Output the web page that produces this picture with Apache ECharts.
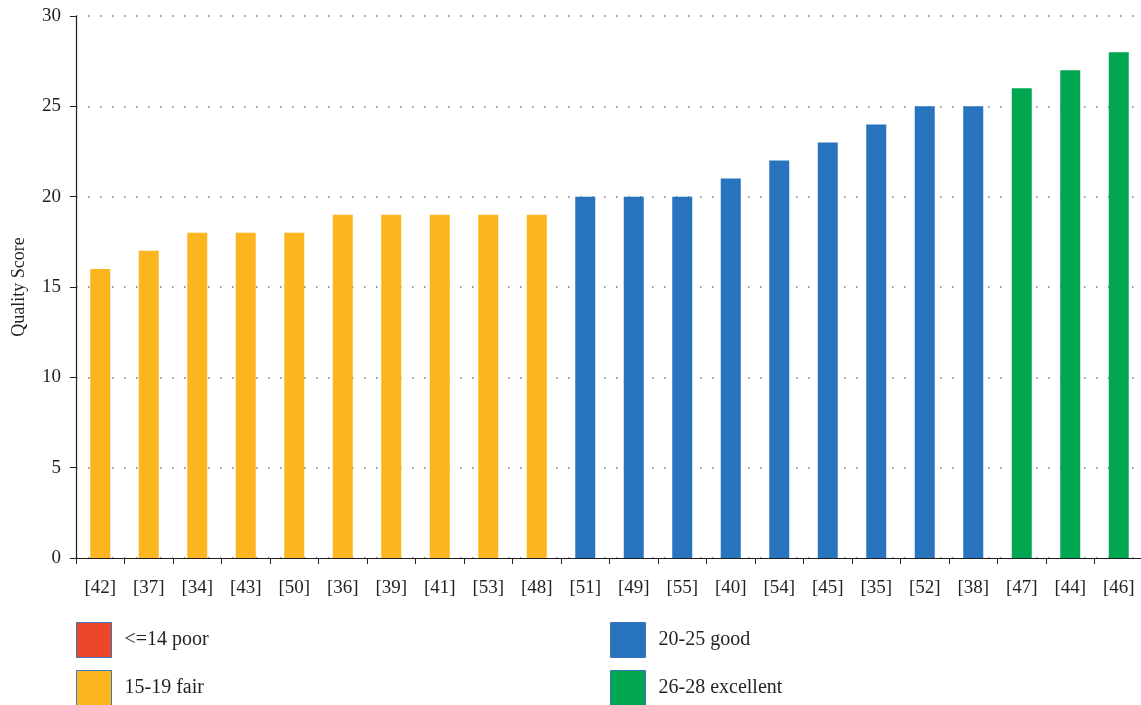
<!DOCTYPE html>
<html><head><meta charset="utf-8">
<script src="https://cdn.jsdelivr.net/npm/echarts@6/dist/echarts.min.js"></script>
<style>html,body{margin:0;padding:0;background:#fff}#c{width:1141px;height:705px}</style>
</head><body><div id="c"></div>
<script>
const categories = ['[42]','[37]','[34]','[43]','[50]','[36]','[39]','[41]','[53]','[48]','[51]','[49]','[55]','[40]','[54]','[45]','[35]','[52]','[38]','[47]','[44]','[46]'];
const scores = [16,17,18,18,18,19,19,19,19,19,20,20,20,21,22,23,24,25,25,26,27,28];
const groupNames = ['<=14 poor','15-19 fair','20-25 good','26-28 excellent'];
const groupMin = [0,15,20,26];
const groupMax = [14,19,25,28];
const groupColors = ['#EE4628','#FBB51E','#2773BE','#00A650'];

const font = '"Liberation Serif", "DejaVu Serif", serif';
const series = groupNames.map((name, g) => ({
  name: name,
  type: 'bar',
  stack: 'all',
  barWidth: 20,
  itemStyle: {color: groupColors[g]},
  data: scores.map(v => (v >= groupMin[g] && v <= groupMax[g]) ? v : null)
}));

function legendAt(left, top, names) {
  return {left: left, top: top, orient: 'horizontal', padding: 0, itemWidth: 35, itemHeight: 35, itemGap: 0, icon: 'rect',
    selectedMode: false,
    itemStyle: {borderColor: '#3A78B8', borderWidth: 1},
    textStyle: {fontFamily: font, fontSize: 20, color: '#231F20', padding: [0,0,0,8]},
    data: names};
}

const chart = echarts.init(document.getElementById('c'));
chart.setOption({
  animation: false,
  textStyle: {fontFamily: font},
  grid: {left: 76, right: -2, top: 16, bottom: 147, containLabel: false, outerBoundsMode: 'none'},
  legend: [
    legendAt(76, 622, [groupNames[0]]),
    legendAt(76, 670, [groupNames[1]]),
    legendAt(610, 622, [groupNames[2]]),
    legendAt(610, 670, [groupNames[3]])
  ],
  xAxis: {
    type: 'category', data: categories,
    axisLine: {lineStyle: {color: '#231F20', width: 1.2}},
    axisTick: {show: true, length: 6, lineStyle: {color: '#231F20'}},
    axisLabel: {fontFamily: font, fontSize: 19, color: '#231F20', margin: 21},
  },
  yAxis: {
    type: 'value', min: 0, max: 30, interval: 5,
    name: 'Quality Score', nameLocation: 'middle', nameGap: 48, nameRotate: 90,
    nameTextStyle: {fontFamily: font, fontSize: 18, color: '#231F20'},
    axisLine: {show: true, lineStyle: {color: '#231F20', width: 1.2}},
    axisTick: {show: true, length: 6, lineStyle: {color: '#231F20'}},
    axisLabel: {fontFamily: font, fontSize: 19, color: '#231F20', margin: 15},
    splitLine: {show: true, lineStyle: {color: '#777', type: [1.5, 10.5], width: 1.5}}
  },
  series: series
});
</script></body></html>
